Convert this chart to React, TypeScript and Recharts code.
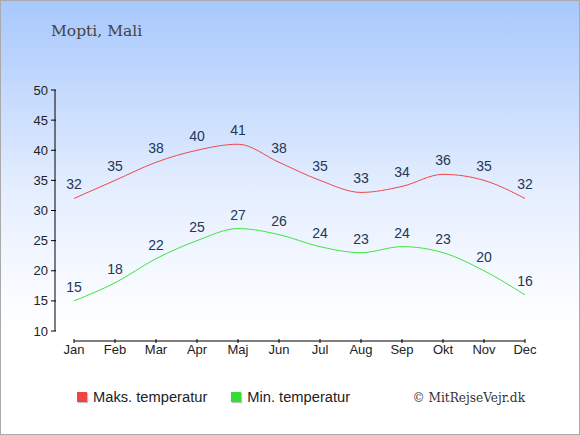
import React from 'react';
import { LineChart, Line, XAxis, YAxis, LabelList } from 'recharts';

// months as shown on the x axis (Danish)
const months = ['Jan', 'Feb', 'Mar', 'Apr', 'Maj', 'Jun', 'Jul', 'Aug', 'Sep', 'Okt', 'Nov', 'Dec'];
const maxTemps = [32, 35, 38, 40, 41, 38, 35, 33, 34, 36, 35, 32];
const minTemps = [15, 18, 22, 25, 27, 26, 24, 23, 24, 23, 20, 16];
const yTicks = [10, 15, 20, 25, 30, 35, 40, 45, 50];

const series = [
  { key: 'max', name: 'Maks. temperatur', color: '#f04848', legend: '#ee4444' },
  { key: 'min', name: 'Min. temperatur', color: '#3ce63c', legend: '#33dd33' },
];

const data = months.map((m, i) => ({ month: m, max: maxTemps[i], min: minTemps[i] }));

const sans = '"Liberation Sans", Arial, sans-serif';
const serif = '"DejaVu Serif", serif';

// y axis sits a bit left of the first point, x axis a bit below the lowest tick
const Y_SHIFT = 19;
const X_SHIFT = 10;

const YTick = (props: any) => {
  const { x, y, payload } = props;
  return (
    <text x={x - Y_SHIFT} y={y} textAnchor="end" dominantBaseline="central"
      fontSize={13} fontFamily={sans} fill="#222">
      {payload.value}
    </text>
  );
};

const XTick = (props: any) => {
  const { x, y, payload } = props;
  return (
    <text x={x} y={y + 17} textAnchor="middle" fontSize={13} fontFamily={sans} fill="#222">
      {payload.value}
    </text>
  );
};

export default function App() {
  return (
    <div style={{
      position: 'absolute', left: 0, top: 0, width: 580, height: 435,
      boxSizing: 'border-box', border: '1px solid #aaa',
      background: 'linear-gradient(to bottom, #a8c8fc 0%, #e6efff 45%, #ffffff 75%, #ffffff 100%)',
      overflow: 'hidden',
    }}>
      <div style={{
        position: 'absolute', left: 50, top: 21, fontFamily: serif, fontSize: 15.5, color: '#444',
      }}>Mopti, Mali</div>

      <div style={{ position: 'absolute', left: -1, top: -1 }}>
        <LineChart width={580} height={435} data={data}
          margin={{ top: 90, left: 34, right: 55, bottom: 74 }}>
          <YAxis domain={[10, 50]} ticks={yTicks} width={40} tickSize={5} interval={0}
            axisLine={{ stroke: '#000', transform: `translate(-${Y_SHIFT},0)` }}
            tickLine={{ stroke: '#000', transform: `translate(-${Y_SHIFT - 1},0)` }}
            tick={<YTick />} />
          <XAxis dataKey="month" height={30} tickSize={4} interval={0}
            axisLine={{ stroke: '#000', transform: `translate(0,${X_SHIFT})` }}
            tickLine={{ stroke: '#000', transform: `translate(0,${X_SHIFT - 2})` }}
            tick={<XTick />} />
          {series.map((s) => (
            <Line key={s.key} type="monotone" dataKey={s.key} name={s.name} stroke={s.color}
              strokeWidth={1} dot={false} isAnimationActive={false}>
              <LabelList dataKey={s.key} position="top" offset={9}
                style={{ fontSize: 14, fontFamily: sans, fill: '#233756' }} />
            </Line>
          ))}
        </LineChart>
      </div>

      <div style={{
        position: 'absolute', left: 76, top: 388, display: 'flex', alignItems: 'center',
        fontFamily: sans, fontSize: 14.7, color: '#222',
      }}>
        {series.map((s, i) => (
          <div key={s.key} style={{ display: 'flex', alignItems: 'center', marginRight: i === 0 ? 24 : 0 }}>
            <span style={{
              width: 10, height: 10, background: s.legend, marginRight: 6,
              boxShadow: '1px 1px 1px rgba(0,0,0,0.25)', display: 'inline-block',
            }} />
            {s.name}
          </div>
        ))}
      </div>

      <div style={{
        position: 'absolute', right: 54, top: 388, fontFamily: '"DejaVu Serif Condensed", "DejaVu Serif", serif',
        fontStretch: 'condensed', fontSize: 13.5, color: '#333',
      }}>© MitRejseVejr.dk</div>
    </div>
  );
}
